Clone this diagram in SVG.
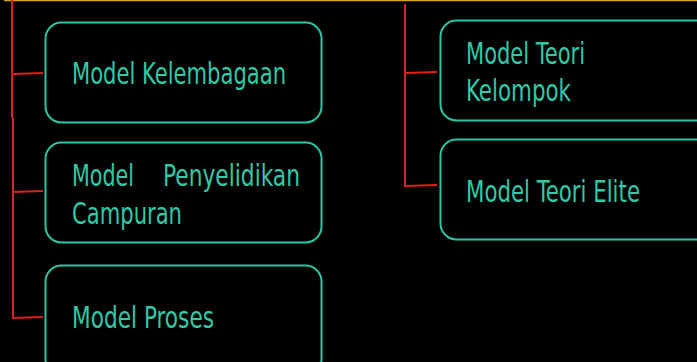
<svg xmlns="http://www.w3.org/2000/svg" width="697" height="362" viewBox="0 0 697 362">
<style>
.box{fill:#000;stroke:#2ec4a2;stroke-width:2}
.t{font-family:"DejaVu Sans Condensed","DejaVu Sans","Liberation Sans",sans-serif;font-size:30px;fill:#33c9a6}
.c{stroke:#e0201c;stroke-width:2;fill:none}
</style>
<rect width="697" height="362" fill="#000"/>
<line x1="4" y1="0.5" x2="697" y2="0.5" stroke="#d6a419" stroke-width="1.5"/>
<g id="connectors">
<polyline class="c" points="12,0 12,118"/>
<polyline class="c" points="13,118 13,318 43,317"/>
<line class="c" x1="12" y1="74" x2="43" y2="73"/>
<line class="c" x1="12" y1="192" x2="43" y2="191"/>
<polyline class="c" points="405,4 405,186 437,185"/>
<line class="c" x1="405" y1="73" x2="437" y2="72"/>
</g>
<g id="n1">
<rect class="box" x="45.5" y="22.5" width="276" height="100" rx="16"/>
<text class="t" x="72" y="84" textLength="214" lengthAdjust="spacingAndGlyphs">Model Kelembagaan</text>
</g>
<g id="n2">
<rect class="box" x="45.5" y="142.5" width="276" height="100" rx="16"/>
<text class="t" x="72" y="186" textLength="62" lengthAdjust="spacingAndGlyphs">Model</text>
<text class="t" x="163" y="186" textLength="137" lengthAdjust="spacingAndGlyphs">Penyelidikan</text>
<text class="t" x="72" y="224" textLength="110" lengthAdjust="spacingAndGlyphs">Campuran</text>
</g>
<g id="n3">
<rect class="box" x="45.5" y="265.5" width="276" height="110" rx="16"/>
<text class="t" x="72" y="328" textLength="142" lengthAdjust="spacingAndGlyphs">Model Proses</text>
</g>
<g id="n4">
<rect class="box" x="440.5" y="20.5" width="276" height="100" rx="16"/>
<text class="t" x="466" y="64" textLength="119" lengthAdjust="spacingAndGlyphs">Model Teori</text>
<text class="t" x="466" y="101" textLength="105" lengthAdjust="spacingAndGlyphs">Kelompok</text>
</g>
<g id="n5">
<rect class="box" x="440.5" y="139.5" width="276" height="100" rx="16"/>
<text class="t" x="466" y="202" textLength="174" lengthAdjust="spacingAndGlyphs">Model Teori Elite</text>
</g>
</svg>
